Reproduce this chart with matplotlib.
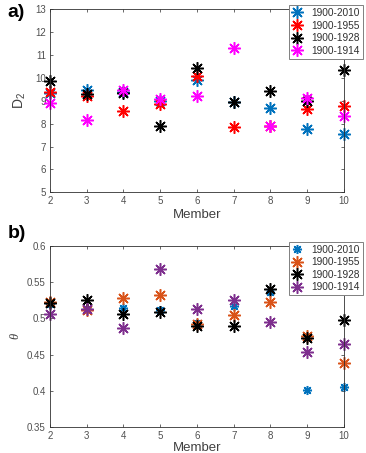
import matplotlib
matplotlib.use("Agg")
import matplotlib.pyplot as plt

plt.rcParams['font.family'] = ['Liberation Sans', 'DejaVu Sans']
plt.rcParams['mathtext.fontset'] = 'custom'
plt.rcParams['mathtext.rm'] = 'Liberation Sans'
plt.rcParams['mathtext.it'] = 'Liberation Serif:italic'

members = [2, 3, 4, 5, 6, 7, 8, 9, 10]
series_labels = ['1900-2010', '1900-1955', '1900-1928', '1900-1914']

d2_2010 = [9.33, 9.47, 9.40, 9.00, 9.90, 8.95, 8.67, 7.75, 7.53]
d2_1955 = [9.37, 9.21, 8.55, 8.85, 10.08, 7.84, 7.90, 8.66, 8.77]
d2_1928 = [9.87, 9.31, 9.33, 7.91, 10.42, 8.93, 9.44, 8.99, 10.35]
d2_1914 = [8.89, 8.16, 9.47, 9.08, 9.21, 11.29, 7.90, 9.11, 8.34]

th_2010 = [0.520, 0.513, 0.514, 0.511, 0.494, 0.517, 0.536, 0.402, 0.406]
th_1955 = [0.523, 0.511, 0.528, 0.532, 0.492, 0.505, 0.522, 0.476, 0.439]
th_1928 = [0.521, 0.525, 0.506, 0.509, 0.490, 0.489, 0.540, 0.473, 0.498]
th_1914 = [0.506, 0.513, 0.487, 0.568, 0.513, 0.525, 0.495, 0.453, 0.464]

colors_a = ['#0072BD', '#FF0000', '#000000', '#FF00FF']
colors_b = ['#0072BD', '#D95319', '#000000', '#7E2F8E']

star = (8, 2, 0)
tick_col = '#505050'

fig = plt.figure(figsize=(3.66, 4.53), dpi=100)
ax1 = fig.add_axes([0.1366, 0.5755, 0.803, 0.404])
ax2 = fig.add_axes([0.1366, 0.0567, 0.803, 0.401])

def style(ax, lpad):
    ax.set_xlim(2, 10)
    ax.set_xticks(members)
    ax.tick_params(direction='in', top=True, right=True, labelsize=7, colors=tick_col,
                   length=2.5, width=0.6, pad=3)
    for s in ax.spines.values():
        s.set_color('#303030')
        s.set_linewidth(0.6)
    ax.set_xlabel('Member', fontsize=9.5, color='#404040', labelpad=lpad)

def add_legend(ax, top):
    leg = ax.legend(loc='upper right', bbox_to_anchor=(0.992, top), bbox_transform=fig.transFigure,
                    fontsize=7.3, frameon=True, fancybox=False, handlelength=1.0, handletextpad=0.9,
                    borderpad=0.3, labelspacing=0.25, borderaxespad=0)
    leg.get_frame().set_edgecolor('#808080')
    leg.get_frame().set_linewidth(0.7)
    leg.get_frame().set_alpha(1)
    for t in leg.get_texts():
        t.set_color('#303030')
    return leg

# panel a
for vals, c, lab, ms in zip([d2_2010, d2_1955, d2_1928, d2_1914], colors_a, series_labels, [9, 9, 9, 9]):
    ax1.plot(members, vals, linestyle='none', marker=star, markersize=ms, markeredgewidth=1.1,
             color=c, label=lab, clip_on=False)
style(ax1, 2)
ax1.set_ylim(5, 13)
ax1.set_yticks([5, 6, 7, 8, 9, 10, 11, 12, 13])
ax1.set_ylabel('D$_2$', fontsize=10, color='#404040', labelpad=5)
add_legend(ax1, 0.989)

# panel b
for vals, c, lab, ms in zip([th_2010, th_1955, th_1928, th_1914], colors_b, series_labels, [6.5, 9, 9, 9]):
    ax2.plot(members, vals, linestyle='none', marker=star, markersize=ms, markeredgewidth=1.1,
             color=c, label=lab, clip_on=False)
style(ax2, 0.5)
ax2.set_ylim(0.35, 0.6)
ax2.set_yticks([0.35, 0.4, 0.45, 0.5, 0.55, 0.6])
ax2.set_yticklabels(['0.35', '0.4', '0.45', '0.5', '0.55', '0.6'])
ax2.set_ylabel(r'$\theta$', fontsize=9, color='#404040', labelpad=4)
add_legend(ax2, 0.4665)

fig.text(0.02, 0.992, 'a)', fontsize=14, fontweight='bold', va='top', ha='left',
         family=['Liberation Sans Narrow', 'Liberation Sans', 'DejaVu Sans'])
fig.text(0.02, 0.503, 'b)', fontsize=14, fontweight='bold', va='top', ha='left',
         family=['Liberation Sans Narrow', 'Liberation Sans', 'DejaVu Sans'])

fig.savefig('out.png', dpi=100)
